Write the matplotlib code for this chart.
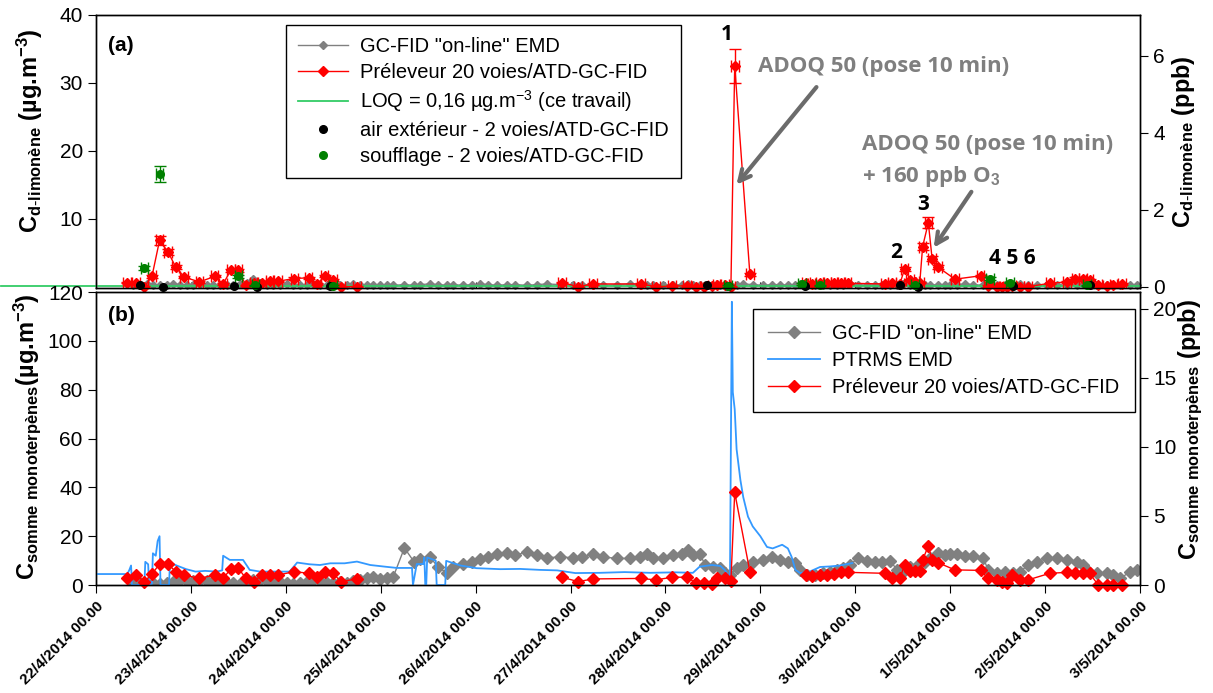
import numpy as np
import matplotlib
matplotlib.use("Agg")
import matplotlib.pyplot as plt

# ============================================================
# Style
# ============================================================
plt.rcParams.update({
    "font.family": "Liberation Sans",
    "font.size": 13,
    "mathtext.fontset": "custom",
    "mathtext.rm": "Liberation Sans",
    "mathtext.it": "Liberation Sans:bold",
    "mathtext.bf": "Liberation Sans:bold",
    "mathtext.default": "bf",
    "axes.linewidth": 1.0,
})

# ============================================================
# Data (time in days from 22/4/2014 00:00)
# ============================================================
date_labels = ["22/4/2014 00.00", "23/4/2014 00.00", "24/4/2014 00.00", "25/4/2014 00.00",
               "26/4/2014 00.00", "27/4/2014 00.00", "28/4/2014 00.00", "29/4/2014 00.00",
               "30/4/2014 00.00", "1/5/2014 00.00", "2/5/2014 00.00", "3/5/2014 00.00"]

# GC-FID "on-line" EMD
gray_t = [0.39, 0.46, 0.54, 0.60, 0.67, 0.75, 0.81, 0.89, 0.96, 1.02, 1.10, 1.17, 1.23, 1.31,
          1.38, 1.44, 1.52, 1.59, 1.65, 1.73, 1.80, 1.87, 1.94, 2.01, 2.08, 2.15, 2.22, 2.29,
          2.36, 2.43, 2.50, 2.57, 2.64, 2.71, 2.78, 2.86, 2.92, 2.99, 3.07, 3.13,
          3.25, 3.35, 3.41, 3.52, 3.60, 3.70, 3.76, 3.87, 3.96, 4.05,
          4.13, 4.23, 4.33, 4.42, 4.54, 4.65, 4.75, 4.89, 5.03, 5.12,
          5.24, 5.34, 5.49, 5.63, 5.73, 5.81, 5.87, 5.97, 6.08, 6.17,
          6.24, 6.29, 6.36, 6.42, 6.50, 6.58, 6.63, 6.68, 6.75, 6.82,
          6.92, 7.03, 7.12, 7.21, 7.29, 7.37, 7.42, 7.49, 7.58, 7.66,
          7.73, 7.81, 7.87, 7.94, 8.03, 8.12, 8.21, 8.28, 8.37, 8.44,
          8.50, 8.58, 8.66, 8.74, 8.79, 8.87, 8.95, 9.00, 9.07, 9.16,
          9.24, 9.35, 9.40, 9.49, 9.58, 9.66, 9.74, 9.82, 9.92, 10.02,
          10.13, 10.23, 10.34, 10.40, 10.44, 10.55, 10.65, 10.72, 10.79, 10.90,
          10.97]
# d-limonène (µg/m3)
gray_a = [0.3, 0.2, 0.4, 0.3, 0.2, 0.3, 0.4, 0.3, 0.2, 0.3, 0.4, 0.3, 0.2, 0.3,
          0.2, 0.3, 0.4, 0.6, 1.2, 0.5, 0.3, 0.2, 0.3, 0.4, 0.3, 0.2, 0.3, 0.4,
          0.3, 0.2, 0.3, 0.2, 0.3, 0.4, 0.3, 0.2, 0.3, 0.2, 0.3, 0.2,
          0.3, 0.2, 0.3, 0.4, 0.3, 0.2, 0.3, 0.2, 0.3, 0.4,
          0.3, 0.2, 0.3, 0.3, 0.2, 0.3, 0.4, 0.3, 0.2, 0.3,
          0.3, 0.2, 0.3, 0.4, 0.3, 0.2, 0.3, 0.3, 0.2, 0.3,
          0.4, 0.3, 0.2, 0.3, 0.2, 0.3, 0.3, 0.2, 0.3, 0.4,
          0.3, 0.2, 0.3, 0.3, 0.2, 0.3, 0.4, 0.3, 0.2, 0.3,
          0.3, 0.2, 0.3, 0.4, 0.3, 0.2, 0.3, 0.3, 0.2, 0.3,
          0.4, 0.3, 0.2, 0.3, 0.2, 0.3, 0.3, 0.2, 0.3, 0.4,
          0.3, 0.2, 0.3, 0.3, 0.2, 0.3, 0.4, 0.3, 0.2, 0.3,
          0.3, 0.2, 0.3, 0.4, 0.3, 0.2, 0.3, 0.3, 0.2, 0.3,
          0.3]
# somme monoterpènes (µg/m3)
gray_b = [0.7, 0.8, 0.5, 0.7, 0.6, 1.0, 1.4, 2.0, 1.8, 1.5, 2.0, 1.7, 1.2, 1.5,
          0.8, 0.9, 0.6, 1.2, 2.0, 2.2, 1.6, 1.0, 1.4, 1.0, 0.6, 0.9, 1.4, 2.0,
          1.6, 1.0, 0.8, 1.2, 0.9, 1.6, 2.2, 2.7, 3.3, 2.6, 2.9, 3.1,
          15.2, 9.6, 10.5, 11.5, 7.5, 4.8, 7.5, 8.8, 9.6, 10.6,
          11.5, 12.9, 13.2, 12.2, 13.6, 12.2, 11.2, 11.5, 11.2, 11.5,
          12.9, 11.5, 10.9, 10.9, 11.5, 12.9, 10.9, 11.2, 12.2, 12.9,
          14.4, 12.2, 12.9, 8.2, 7.5, 7.0, 4.9, 4.1, 7.0, 8.2,
          9.6, 10.3, 11.5, 10.3, 9.6, 9.0, 6.2, 4.1, 4.1, 4.8,
          5.5, 6.2, 7.0, 8.2, 11.0, 9.9, 9.6, 9.6, 9.9, 6.2,
          5.5, 7.5, 8.2, 9.5, 11.0, 13.0, 12.5, 12.6, 12.6, 12.0,
          12.0, 11.0, 6.2, 4.8, 5.5, 4.8, 5.5, 8.2, 9.6, 11.0,
          11.0, 10.3, 9.6, 8.2, 6.2, 4.8, 5.0, 4.1, 2.7, 5.5,
          6.2]

# Préleveur 20 voies/ATD-GC-FID (nan = no sampling)
red_t = [0.33, 0.42, 0.51, 0.59, 0.67, 0.76, 0.84, 0.93, 1.09, 1.25, 1.34, 1.42, 1.50, 1.58,
         1.66, 1.75, 1.83, 1.92, 2.09, 2.24, 2.33, 2.41, 2.50, 2.58, 2.75,
         3.80,
         4.91, 5.08, 5.24, 5.74, 5.90, 6.07, 6.23, 6.32, 6.41, 6.49, 6.54, 6.63, 6.69, 6.73, 6.89,
         7.20,
         7.48, 7.54, 7.63, 7.70, 7.78, 7.85, 7.92,
         8.31, 8.39, 8.47, 8.52, 8.58, 8.63, 8.68, 8.71, 8.77, 8.81,
         8.87, 9.05, 9.32, 9.40, 9.49, 9.55, 9.60, 9.65, 9.74, 9.82,
         10.05, 10.23, 10.32, 10.40, 10.47, 10.56, 10.65, 10.72, 10.81]
red_a = [0.6, 0.6, 0.0, 1.5, 6.8, 5.1, 2.9, 1.4, 0.7, 1.5, 0.4, 2.4, 2.4, 0.2,
         0.5, 0.6, 0.8, 0.8, 1.2, 1.3, 0.4, 1.5, 1.0, 0.0, 0.0,
         np.nan,
         0.6, 0.0, 0.4, 0.4, 0.0, 0.1, 0.1, 0.0, 0.0, 0.1, 0.3, 0.2, 0.0, 32.5, 1.8,
         np.nan,
         0.6, 0.4, 0.5, 0.6, 0.5, 0.6, 0.5,
         0.4, 0.6, 0.4, 2.6, 1.0, 0.7, 0.6, 5.9, 9.4, 4.1,
         2.9, 1.1, 1.6, 0.1, 0.0, 0.0, 0.0, 0.1, 0.0, 0.0,
         0.5, 0.7, 1.2, 1.2, 1.0, 0.2, 0.1, 0.2, 0.4]
red_a_err = [0.1, 0.1, 0.1, 0.2, 0.6, 0.4, 0.3, 0.15, 0.1, 0.15, 0.1, 0.25, 0.25, 0.1,
             0.1, 0.1, 0.1, 0.1, 0.15, 0.15, 0.1, 0.15, 0.1, 0.1, 0.1,
             0.0,
             0.1, 0.1, 0.1, 0.1, 0.1, 0.1, 0.1, 0.1, 0.1, 0.1, 0.1, 0.1, 0.1, 2.5, 0.2,
             0.0,
             0.1, 0.1, 0.1, 0.1, 0.1, 0.1, 0.1,
             0.1, 0.1, 0.1, 0.25, 0.1, 0.1, 0.1, 0.5, 0.8, 0.35,
             0.25, 0.1, 0.15, 0.1, 0.1, 0.1, 0.1, 0.1, 0.1, 0.1,
             0.1, 0.1, 0.15, 0.15, 0.1, 0.1, 0.1, 0.1, 0.1]
red_b = [2.7, 4.1, 1.4, 4.5, 8.6, 8.6, 5.5, 4.1, 2.7, 4.1, 2.7, 6.6, 6.9, 2.7,
         1.4, 4.1, 4.1, 4.1, 5.5, 4.8, 3.2, 5.2, 4.8, 1.4, 2.5,
         np.nan,
         3.2, 1.4, 2.5, 2.7, 2.1, 3.2, 3.2, 0.8, 0.8, 0.3, 2.7, 2.7, 1.7, 37.9, 5.5,
         np.nan,
         4.1, 3.5, 4.1, 4.1, 4.5, 5.2, 5.2,
         4.8, 2.7, 2.7, 8.2, 5.6, 5.6, 5.6, 10.3, 16.0, 10.3,
         9.2, 6.2, 6.0, 2.7, 2.1, 1.4, 0.7, 4.1, 2.1, 2.1,
         4.8, 5.2, 4.8, 4.8, 4.8, 0.0, 0.0, 0.0, 0.0]

# PTRMS EMD
blue_t = [0.00, 0.33, 0.35, 0.37, 0.38, 0.51, 0.52, 0.55, 0.56, 0.59,
          0.60, 0.63, 0.65, 0.67, 0.68, 0.77, 0.78, 0.85, 0.95, 1.05,
          1.15, 1.27, 1.33, 1.34, 1.41, 1.55, 1.62, 1.73, 1.90, 2.04,
          2.12, 2.25, 2.36, 2.47, 2.62, 2.75, 2.89, 3.05, 3.17, 3.20,
          3.33, 3.34, 3.38, 3.45, 3.46, 3.47, 3.48, 3.49, 3.58, 3.59,
          3.68, 3.69, 3.84, 4.01, 4.26, 4.47, 4.68, 4.86, 5.05, 5.31,
          5.57, 5.84, 6.10, 6.29, 6.36, 6.49, 6.58, 6.63, 6.66, 6.68,
          6.70, 6.71, 6.73, 6.75, 6.79, 6.82, 6.87, 6.92, 7.00, 7.07,
          7.13, 7.23, 7.29, 7.33, 7.37, 7.42, 7.52, 7.63, 7.73, 7.84,
          7.97]
blue_v = [4.5, 4.5, 6.0, 8.0, 0.0, 0.0, 9.5, 8.5, 0.5, 0.5,
          13.0, 12.0, 18.0, 20.0, 0.0, 0.0, 9.2, 8.0, 6.5, 5.5,
          5.8, 5.5, 6.0, 12.0, 10.3, 10.3, 6.2, 5.5, 5.5, 5.5,
          9.2, 8.5, 8.2, 8.9, 8.9, 9.6, 8.2, 7.5, 7.0, 7.0,
          7.0, 0.0, 8.6, 8.6, 11.3, 0.0, 0.0, 11.3, 10.0, 0.0,
          0.0, 9.9, 8.0, 6.9, 6.5, 6.6, 6.2, 6.0, 4.9, 5.0,
          5.3, 5.0, 5.2, 5.0, 7.5, 8.2, 7.8, 6.0, 4.1, 2.0,
          116.0, 79.0, 72.0, 55.6, 43.0, 36.0, 28.0, 24.0, 20.0, 15.6,
          15.0, 16.5, 15.0, 11.5, 6.2, 4.9, 5.5, 7.4, 7.6, 8.0,
          9.0]

# 2 voies/ATD-GC-FID
ext_t = [0.46, 0.71, 1.45, 1.70, 2.47, 6.44, 6.66, 7.47, 8.47, 8.66, 9.66, 10.47]
ext_v = [0.2, 0.0, 0.1, 0.0, 0.1, 0.2, 0.1, 0.1, 0.2, 0.0, 0.1, 0.2]
souf_t = [0.51, 0.67, 1.50, 1.68, 2.50, 6.66, 7.44, 7.63, 8.63, 9.42, 9.63, 10.44]
souf_v = [2.8, 16.6, 1.5, 0.2, 0.1, 0.1, 0.4, 0.2, 0.2, 1.2, 0.6, 0.2]
souf_err = [0.3, 1.2, 0.2, 0.1, 0.1, 0.1, 0.1, 0.1, 0.1, 0.15, 0.1, 0.1]

loq = 0.16
ppb_factor = 5.66  # µg/m3 per ppb

# ============================================================
# Colors
# ============================================================
gray = "#808080"
red = "#FF0000"
blue = "#3399FF"
loq_green = "#33CC66"
souf_green = "#008000"
note_gray = "#7F7F7F"

# ============================================================
# Figure
# ============================================================
fig = plt.figure(figsize=(12.13, 6.93), dpi=100)
ax_a = fig.add_axes([0.0791, 0.5844, 0.8607, 0.3940])
ax_b = fig.add_axes([0.0791, 0.1558, 0.8607, 0.4228])

# ---------------- Panel (a) ----------------
l_gray, = ax_a.plot(gray_t, gray_a, color=gray, marker="D", ms=4, lw=1.0, zorder=2,
                    label='GC-FID "on-line" EMD', clip_on=False)
l_loq, = ax_a.plot([-1.0, 11.0], [loq, loq], color=loq_green, lw=1.3, zorder=3,
                   clip_on=False, label=r"LOQ = 0,16 µg.m$^{\mathrm{-3}}$ (ce travail)")
ax_a.errorbar(red_t, red_a, yerr=red_a_err, xerr=0.04, fmt="none", ecolor=red,
              elinewidth=1.0, capsize=4, zorder=4)
l_red, = ax_a.plot(red_t, red_a, color=red, marker="D", ms=5.5, lw=1.0, zorder=4,
                   label="Préleveur 20 voies/ATD-GC-FID", clip_on=False)
ax_a.errorbar(souf_t, souf_v, yerr=souf_err, xerr=0.04, fmt="none", ecolor=souf_green,
              elinewidth=1.0, capsize=4, zorder=5)
l_ext, = ax_a.plot(ext_t, ext_v, "o", color="black", ms=5.5, zorder=6, clip_on=False,
                   label="air extérieur - 2 voies/ATD-GC-FID")
l_souf, = ax_a.plot(souf_t, souf_v, "o", color=souf_green, ms=5.5, zorder=6, clip_on=False,
                    label="soufflage - 2 voies/ATD-GC-FID")

ax_a.set_xlim(0, 11)
ax_a.set_ylim(-0.2, 40)
ax_a.set_yticks([10, 20, 30, 40])
ax_a.set_xticks(range(12))
ax_a.tick_params(axis="x", direction="in", length=4, labelbottom=False)
ax_a.tick_params(axis="y", direction="out", length=6, labelsize=15)
ax_a.set_ylabel(r"C$_{d\text{-}limonène}$ (µg.m$^{-3}$)", fontsize=17, fontweight="bold")
ax_a.yaxis.set_label_coords(-0.049, 0.575)

ax_a2 = ax_a.twinx()
ax_a2.set_ylim(-0.2 / ppb_factor, 40 / ppb_factor)
ax_a2.set_yticks([0, 2, 4, 6])
ax_a2.tick_params(axis="y", direction="out", length=6, labelsize=15)
ax_a2.set_ylabel(r"C$_{d\text{-}limonène}$ (ppb)", fontsize=17, fontweight="bold")
ax_a2.yaxis.set_label_coords(1.029, 0.535)

leg_a = ax_a.legend(handles=[l_gray, l_red, l_loq, l_ext, l_souf], loc="upper left",
                    bbox_to_anchor=(0.182, 0.963), borderaxespad=0, fontsize=14.5,
                    fancybox=False, edgecolor="black", framealpha=1, borderpad=0.6,
                    labelspacing=0.33, handlelength=2.5, handletextpad=0.6)
leg_a.get_frame().set_linewidth(1.0)

ax_a.text(0.012, 0.89, "(a)", transform=ax_a.transAxes, fontsize=15, fontweight="bold",
          va="center")

# event annotations
note_font = dict(family="Open Sans", fontweight="bold", fontsize=16)
num_font = dict(family="Open Sans", fontweight="bold", fontsize=15)
ax_a.text(6.65, 37.1, "1", ha="center", va="center", color="black", **num_font)
ax_a.text(8.43, 5.1, "2", ha="center", va="center", color="black", **num_font)
ax_a.text(8.72, 12.1, "3", ha="center", va="center", color="black", **num_font)
ax_a.text(9.66, 4.1, "4 5 6", ha="center", va="center", color="black", **num_font)
ax_a.text(6.98, 32.4, "ADOQ 50 (pose 10 min)", ha="left", va="center", color=note_gray,
          **note_font)
ax_a.text(8.07, 20.9, "ADOQ 50 (pose 10 min)", ha="left", va="center", color=note_gray,
          **note_font)
ax_a.text(8.07, 16.2, r"+ 160 ppb O$_{3}$", ha="left", va="center", color=note_gray,
          **note_font)
arrow_style = dict(arrowstyle="->", color="#6B6B6B", lw=3, mutation_scale=20)
ax_a.annotate("", xy=(6.73, 14.7), xytext=(7.61, 29.7), arrowprops=arrow_style, zorder=7)
ax_a.annotate("", xy=(8.81, 5.4), xytext=(9.24, 14.3), arrowprops=arrow_style, zorder=7)

# ---------------- Panel (b) ----------------
m_gray, = ax_b.plot(gray_t, gray_b, color=gray, marker="D", ms=6, lw=1.0, zorder=2,
                    label='GC-FID "on-line" EMD')
m_blue, = ax_b.plot(blue_t, blue_v, color=blue, lw=1.3, zorder=3, label="PTRMS EMD")
m_red, = ax_b.plot(red_t, red_b, color=red, marker="D", ms=6.5, lw=1.0, zorder=4,
                   label="Préleveur 20 voies/ATD-GC-FID", clip_on=False)

ax_b.set_xlim(0, 11)
ax_b.set_ylim(0, 120)
ax_b.set_yticks(range(0, 121, 20))
ax_b.set_xticks(range(12))
ax_b.set_xticklabels(date_labels, rotation=45, ha="right", rotation_mode="anchor",
                     fontsize=11, fontweight="bold")
ax_b.tick_params(axis="x", direction="out", length=6, pad=4)
ax_b.tick_params(axis="y", direction="out", length=6, labelsize=15)
ax_b.set_ylabel(r"C$_{somme\ monoterpènes}$(µg.m$^{-3}$)", fontsize=17, fontweight="bold")
ax_b.yaxis.set_label_coords(-0.051, 0.505)

ax_b2 = ax_b.twinx()
ax_b2.set_ylim(0, 120 / ppb_factor)
ax_b2.set_yticks([0, 5, 10, 15, 20])
ax_b2.tick_params(axis="y", direction="out", length=6, labelsize=15)
ax_b2.set_ylabel(r"C$_{somme\ monoterpènes}$ (ppb)", fontsize=17, fontweight="bold")
ax_b2.yaxis.set_label_coords(1.035, 0.53)

leg_b = ax_b.legend(handles=[m_gray, m_blue, m_red], loc="upper left",
                    bbox_to_anchor=(0.629, 0.942), borderaxespad=0, fontsize=14.5,
                    fancybox=False, edgecolor="black", framealpha=1, borderpad=0.75,
                    labelspacing=0.4, handlelength=2.6, handletextpad=0.6)
leg_b.get_frame().set_linewidth(1.0)

ax_b.text(0.012, 0.92, "(b)", transform=ax_b.transAxes, fontsize=15, fontweight="bold",
          va="center")

fig.savefig("out.png", dpi=100)
